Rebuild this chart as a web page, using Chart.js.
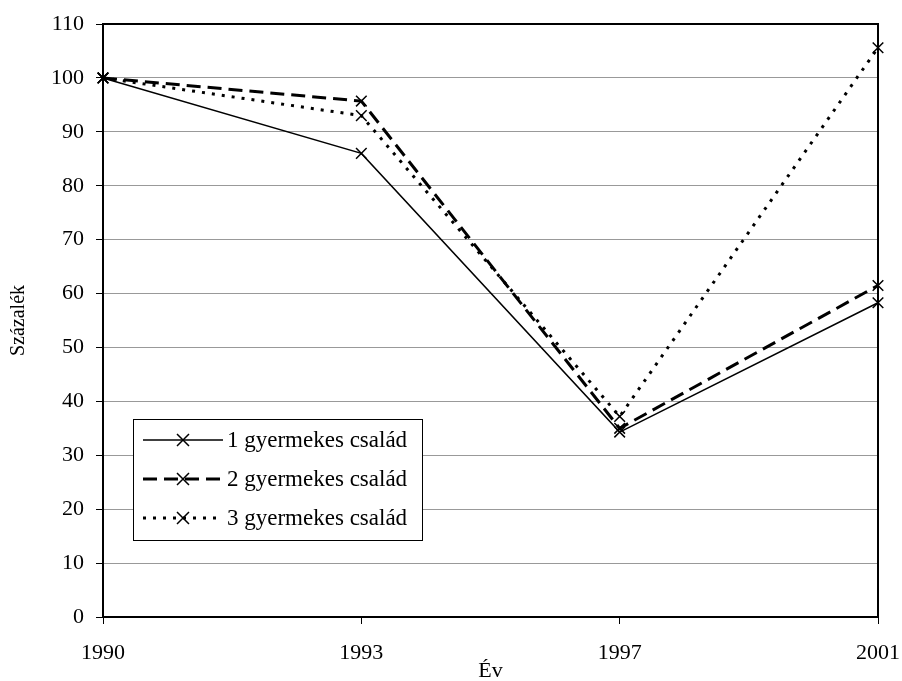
<!DOCTYPE html>
<html lang="hu">
<head>
<meta charset="UTF-8">
<title>Százalék / Év</title>
<script src="https://cdn.jsdelivr.net/npm/chart.js"></script>
<style>
    html, body { margin: 0; padding: 0; background: #fff; }
    .doboz { width: 902px; height: 681px; }
</style>
</head>
<body>
<div class="doboz">
    <canvas id="grafikon" width="902" height="681"></canvas>
</div>
<script>
    const evek = ['1990', '1993', '1997', '2001'];
    const egyGyermek = [100, 86, 34.3, 58.3];
    const ketGyermek = [100, 95.7, 35, 61.5];
    const haromGyermek = [100, 93, 37.2, 105.6];
    const sorozatNevek = ['1 gyermekes család', '2 gyermekes család', '3 gyermekes család'];
    const yTickek = [0, 10, 20, 30, 40, 50, 60, 70, 80, 90, 100, 110];

    const betu = 'Liberation Serif, Times New Roman, serif';

    function sorozat(nev, adat, vastag, szaggat) {
        return {
            label: nev,
            data: adat,
            borderColor: '#000',
            backgroundColor: '#000',
            borderWidth: vastag,
            borderDash: szaggat,
            pointStyle: 'crossRot',
            pointRadius: 7.5,
            pointBorderWidth: 1.5,
            pointBorderColor: '#000',
            tension: 0,
            fill: false
        };
    }

    // keret a rajzterulet kore + sajat jelmagyarazat
    const keretEsJelmagyarazat = {
        id: 'keret',
        afterDraw(chart) {
            const ctx = chart.ctx;
            const a = chart.chartArea;
            ctx.save();
            ctx.strokeStyle = '#000';
            ctx.lineWidth = 2;
            ctx.strokeRect(a.left, a.top, a.right - a.left, a.bottom - a.top);

            // jelmagyarazat doboz
            const bx = 133, by = 419, bw = 289, bh = 121;
            ctx.fillStyle = '#fff';
            ctx.fillRect(bx, by, bw, bh);
            ctx.lineWidth = 1;
            ctx.strokeStyle = '#000';
            ctx.strokeRect(bx + 0.5, by + 0.5, bw, bh);

            ctx.font = '23px ' + betu;
            ctx.textBaseline = 'middle';
            ctx.textAlign = 'left';
            chart.data.datasets.forEach((ds, i) => {
                const y = by + 21 + i * 39;
                ctx.strokeStyle = '#000';
                ctx.lineWidth = ds.borderWidth;
                ctx.setLineDash(ds.borderDash || []);
                ctx.beginPath();
                ctx.moveTo(bx + 10, y);
                ctx.lineTo(bx + 90, y);
                ctx.stroke();
                ctx.setLineDash([]);
                ctx.lineWidth = 1.5;
                const cx = bx + 50, r = 6;
                ctx.beginPath();
                ctx.moveTo(cx - r, y - r); ctx.lineTo(cx + r, y + r);
                ctx.moveTo(cx - r, y + r); ctx.lineTo(cx + r, y - r);
                ctx.stroke();
                ctx.fillStyle = '#000';
                ctx.fillText(ds.label, bx + 94, y + 1);
            });
            ctx.restore();
        }
    };

    const adatok = {
        labels: evek,
        datasets: [
            sorozat(sorozatNevek[0], egyGyermek, 1.5, []),
            sorozat(sorozatNevek[1], ketGyermek, 3, [14, 7]),
            sorozat(sorozatNevek[2], haromGyermek, 3, [3, 7])
        ]
    };

    const beallitas = {
        type: 'line',
        data: adatok,
        plugins: [keretEsJelmagyarazat],
        options: {
            responsive: false,
            animation: false,
            layout: { padding: { left: 0, top: 24, right: 24, bottom: 0 } },
            plugins: {
                legend: { display: false },
                tooltip: { enabled: false }
            },
            scales: {
                x: {
                    offset: false,
                    grid: { drawOnChartArea: false, drawTicks: true, tickLength: 7, tickColor: '#000', tickWidth: 1 },
                    border: { color: '#000', width: 2 },
                    ticks: { color: '#000', font: { family: betu, size: 22 }, padding: 16, maxRotation: 0 },
                    title: { display: true, text: 'Év', color: '#000', font: { family: betu, size: 22 }, padding: { top: 0, bottom: -3 } },
                    afterFit(s) { s.height = 64; s.paddingLeft = 0; s.paddingRight = 0; }
                },
                y: {
                    min: 0,
                    max: 110,
                    afterBuildTicks(s) { s.ticks = yTickek.map(v => ({ value: v })); },
                    grid: { color: '#999', lineWidth: 1, drawTicks: true, tickLength: 7, tickColor: '#000' },
                    border: { color: '#000', width: 2 },
                    ticks: { color: '#000', font: { family: betu, size: 22 }, padding: 12 },
                    title: { display: true, text: 'Százalék', color: '#000', font: { family: betu, size: 20 }, padding: { top: 7, bottom: 4 } },
                    afterFit(s) { s.width = 103; s.paddingTop = 0; s.paddingBottom = 0; }
                }
            }
        }
    };

    const grafikon = new Chart(document.getElementById('grafikon'), beallitas);
</script>
</body>
</html>
